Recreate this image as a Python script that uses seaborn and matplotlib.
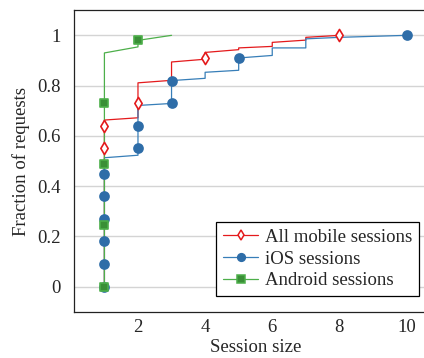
import matplotlib
matplotlib.use("Agg")
import matplotlib.pyplot as plt
from matplotlib.lines import Line2D
import seaborn as sns
import pandas as pd

# step-like CDF outlines (session size vs fraction of requests)
all_x = [1, 1, 2, 2, 3, 3, 4, 4, 5, 5, 6, 6, 7, 7, 8]
all_y = [0, 0.663, 0.672, 0.811, 0.821, 0.894, 0.905, 0.932, 0.943, 0.950, 0.956, 0.972, 0.981, 0.992, 1.0]
ios_x = [1, 1, 2, 2, 3, 3, 4, 4, 5, 5, 6, 6, 7, 7, 8, 10]
ios_y = [0, 0.513, 0.523, 0.721, 0.729, 0.820, 0.829, 0.853, 0.861, 0.910, 0.920, 0.950, 0.950, 0.986, 0.992, 1.0]
and_x = [1, 1, 2, 2, 3]
and_y = [0, 0.930, 0.954, 0.980, 1.0]

# marker positions (visible ones)
all_mx = [1, 1, 2, 4, 8]
all_my = [0.55, 0.64, 0.73, 0.91, 1.0]
ios_mx = [1, 1, 1, 1, 1, 1, 2, 2, 3, 3, 5, 10]
ios_my = [0, 0.09, 0.18, 0.27, 0.36, 0.45, 0.55, 0.64, 0.73, 0.82, 0.91, 1.0]
and_mx = [1, 1, 1, 1, 2]
and_my = [0, 0.245, 0.49, 0.73, 0.98]

labels = ["All mobile sessions", "iOS sessions", "Android sessions"]

sns.set_style("white")
plt.rcParams["font.family"] = ["Liberation Serif", "DejaVu Serif"]

red, blue, green = "#e41a1c", "#377eb8", "#4daf4a"
fs = 13.5

fig = plt.figure(figsize=(4.24, 3.58), dpi=100)
ax = fig.add_axes([0.175, 0.129, 0.855, 0.8425])

ax.grid(axis="y", color="#d4d4d4", linewidth=1.0)
ax.set_axisbelow(True)

series = [
    (all_x, all_y, all_mx, all_my, red, "d", "white", red, 6.2),
    (ios_x, ios_y, ios_mx, ios_my, blue, "o", "#2e6da8", "#2e6da8", 6.5),
    (and_x, and_y, and_mx, and_my, green, "s", "#3a8f37", green, 6),
]

handles = []
for (lx, ly, mx, my, col, mk, mfc, mec, ms), lab in zip(series, labels):
    line_df = pd.DataFrame({"x": lx, "y": ly})
    sns.lineplot(data=line_df, x="x", y="y", sort=False, estimator=None,
                 color=col, linewidth=0.9, ax=ax)
    mark_df = pd.DataFrame({"x": mx, "y": my})
    sns.scatterplot(data=mark_df, x="x", y="y", marker=mk, s=ms ** 2,
                    color=mfc, edgecolor=mec, linewidth=1.2, ax=ax, zorder=3)
    handles.append(Line2D([], [], color=col, linewidth=0.9, marker=mk,
                          markersize=ms * 0.85, markerfacecolor=mfc,
                          markeredgecolor=mec, markeredgewidth=1.1))

ax.set_xlim(0.1, 10.9)
ax.set_ylim(-0.1, 1.1)
ax.set_xticks([2, 4, 6, 8, 10])
ax.set_yticks([0, 0.2, 0.4, 0.6, 0.8, 1.0])
ax.set_yticklabels(["0", "0.2", "0.4", "0.6", "0.8", "1"])
ax.tick_params(axis="x", direction="in", length=4, color="#888888", labelsize=fs, pad=5)
ax.tick_params(axis="y", direction="in", length=0, labelsize=fs, pad=10)

ax.set_xlabel("Session size", fontsize=fs, labelpad=2)
ax.set_ylabel("Fraction of requests", fontsize=fs, labelpad=5)

for side in ["left", "bottom", "top"]:
    ax.spines[side].set_color("#222222")
    ax.spines[side].set_linewidth(0.9)
ax.spines["right"].set_visible(False)

leg = ax.legend(handles, labels, loc="lower right",
                bbox_to_anchor=(0.9875, 0.1732), bbox_transform=fig.transFigure,
                borderaxespad=0, fontsize=fs, frameon=True, fancybox=False,
                edgecolor="black", framealpha=1, handlelength=1.9,
                handletextpad=0.35, labelspacing=0.25, borderpad=0.35)
leg.get_frame().set_linewidth(0.9)

fig.savefig("out.png", dpi=100)
